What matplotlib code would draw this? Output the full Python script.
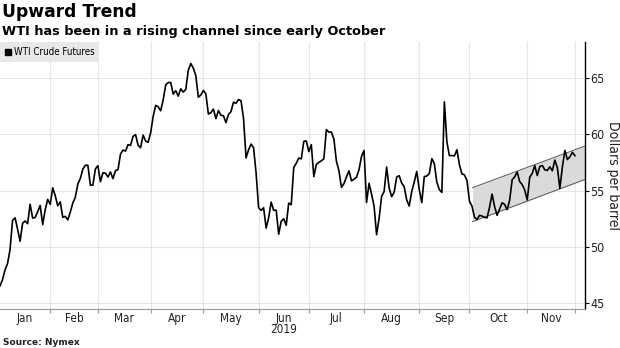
import numpy as np
import pandas as pd
import matplotlib
matplotlib.use("Agg")
import matplotlib.pyplot as plt
from matplotlib.lines import Line2D

# WTI front-month settles, 2019 (trading days only)
jan = [46.54, 47.09, 47.96, 48.52, 49.78, 52.36, 52.59, 51.59, 50.51, 52.11, 52.31,
       52.07, 53.80, 52.57, 52.62, 53.13, 53.69, 51.99, 53.31, 54.23, 53.79]
feb = [55.26, 54.56, 53.66, 54.01, 52.64, 52.72, 52.41, 53.10, 53.90, 54.41, 55.59,
       56.09, 56.92, 57.26, 57.26, 55.48, 55.50, 56.94, 57.22]
mar = [55.80, 56.59, 56.56, 56.22, 56.66, 56.07, 56.79, 56.87, 58.26, 58.61, 58.52,
       59.09, 59.03, 59.83, 59.98, 59.04, 58.82, 59.94, 59.41, 59.30, 60.14]
apr = [61.59, 62.58, 62.46, 62.10, 63.08, 64.40, 64.61, 64.61, 63.58, 63.89, 63.40,
       64.05, 63.76, 64.00, 65.70, 66.30, 65.89, 65.21, 63.30, 63.50, 63.91]
may = [63.60, 61.81, 61.94, 62.25, 61.40, 62.12, 61.70, 61.66, 61.04, 61.78, 62.02,
       62.87, 62.76, 63.10, 62.99, 61.42, 57.91, 58.63, 59.14, 58.81, 56.59, 53.50]
jun = [53.25, 53.48, 51.68, 52.59, 53.99, 53.26, 53.27, 51.14, 52.28, 52.51, 51.93,
       53.90, 53.76, 57.07, 57.43, 57.90, 57.83, 59.38, 59.43, 58.47]
jul = [59.09, 56.25, 57.34, 57.51, 57.66, 57.83, 60.43, 60.20, 60.21, 59.58, 57.62,
       56.78, 55.30, 55.63, 56.22, 56.77, 55.88, 56.02, 56.20, 56.87, 58.05, 58.58]
aug = [53.95, 55.66, 54.69, 53.63, 51.09, 52.54, 54.50, 54.93, 57.10, 55.23, 54.47,
       54.87, 56.21, 56.34, 55.68, 55.35, 54.17, 53.64, 54.93, 55.78, 56.71, 55.10]
sep = [53.94, 56.26, 56.30, 56.52, 57.85, 57.40, 55.75, 55.09, 54.85, 62.90, 59.34,
       58.11, 58.13, 58.09, 58.64, 57.29, 56.49, 56.41, 55.91, 54.07]
oct_ = [53.62, 52.64, 52.45, 52.81, 52.75, 52.63, 52.59, 53.55, 54.70, 53.59, 52.81,
        53.36, 53.93, 53.78, 53.31, 54.16, 55.97, 56.23, 56.66, 55.81, 55.54, 55.06, 54.18]
nov = [56.20, 56.54, 57.23, 56.35, 57.15, 57.24, 56.86, 56.80, 57.12, 56.77, 57.72,
       57.05, 55.21, 57.11, 58.58, 57.77, 58.01, 58.41, 58.11]

months = ["Jan", "Feb", "Mar", "Apr", "May", "Jun", "Jul", "Aug", "Sep", "Oct", "Nov"]
monthly = [jan, feb, mar, apr, may, jun, jul, aug, sep, oct_, nov]

# rising channel drawn on the chart (trading-day index, $)
channel_x = [188.2, 233.0]
channel_top = [55.27, 58.97]
channel_bot = [52.25, 56.00]

prices = np.concatenate(monthly)
x = np.arange(len(prices))
counts = [len(m) for m in monthly]
starts = np.concatenate([[0], np.cumsum(counts)])

narrow = dict(family="DejaVu Sans", fontstretch="condensed")

fig = plt.figure(figsize=(6.2, 3.48), dpi=100)
ax = fig.add_axes([0.0, 0.112, 0.9435, 0.767])

ax.fill_between(channel_x, channel_bot, channel_top, color="#dadada", lw=0, zorder=1)
ax.plot(channel_x, channel_top, color="#555555", lw=0.7, zorder=2)
ax.plot(channel_x, channel_bot, color="#555555", lw=0.7, zorder=2)
ax.plot(x, prices, color="black", lw=1.2, zorder=3)

ax.set_xlim(0, 233)
ax.set_ylim(44.49, 68.2)

# month boundaries (gridlines) and centred month labels
bounds = starts[1:] - 1
ax.set_xticks(bounds)
ax.set_xticklabels([])
centers = (np.concatenate([[0], bounds[:-1]]) + bounds) / 2
ax.set_xticks(centers, minor=True)
ax.set_xticklabels(months, minor=True, fontsize=8.5, color="#222222", **narrow)
ax.tick_params(axis="x", which="major", length=3, color="#999999", direction="out")
ax.tick_params(axis="x", which="minor", length=0, pad=2)
ax.text(centers[5], -0.054, "2019", transform=ax.get_xaxis_transform(),
        ha="center", va="top", fontsize=8.5, color="#222222", **narrow)

ax.yaxis.tick_right()
ax.set_yticks([45, 50, 55, 60, 65])
ax.set_yticklabels(["45", "50", "55", "60", "65"], fontsize=9, color="#222222", **narrow)
ax.tick_params(axis="y", length=3, width=0.8, color="black", pad=1)
ax.yaxis.set_label_position("right")
ax.set_ylabel("Dollars per barrel", rotation=270, labelpad=11, fontsize=10,
              color="#222222", **narrow)

ax.grid(True, which="major", color="#e6e6e6", lw=0.8)
ax.set_axisbelow(True)
for s in ["top", "left"]:
    ax.spines[s].set_visible(False)
ax.spines["bottom"].set_color("#999999")
ax.spines["right"].set_color("black")
ax.spines["right"].set_linewidth(1.0)

handle = Line2D([], [], marker="s", color="black", ls="none", markersize=5)
leg = ax.legend([handle], ["WTI Crude Futures"], loc="upper left", bbox_to_anchor=(0, 1),
                borderaxespad=0, frameon=True, fancybox=False, handlelength=0.6,
                handletextpad=0.3, borderpad=0.5, prop=dict(size=7, stretch="condensed"))
leg.get_frame().set_facecolor("#e8e8e8")
leg.get_frame().set_edgecolor("none")
leg.get_frame().set_alpha(1)

fig.text(0.003, 0.951, "Upward Trend", fontsize=12.3, fontweight="bold", color="black")
fig.text(0.003, 0.899, "WTI has been in a rising channel since early October",
         fontsize=9.25, fontweight="bold", color="black")
fig.text(0.005, 0.009, "Source: Nymex", fontsize=6.5, fontweight="bold", color="#222222")

fig.savefig("out.png", dpi=100)
